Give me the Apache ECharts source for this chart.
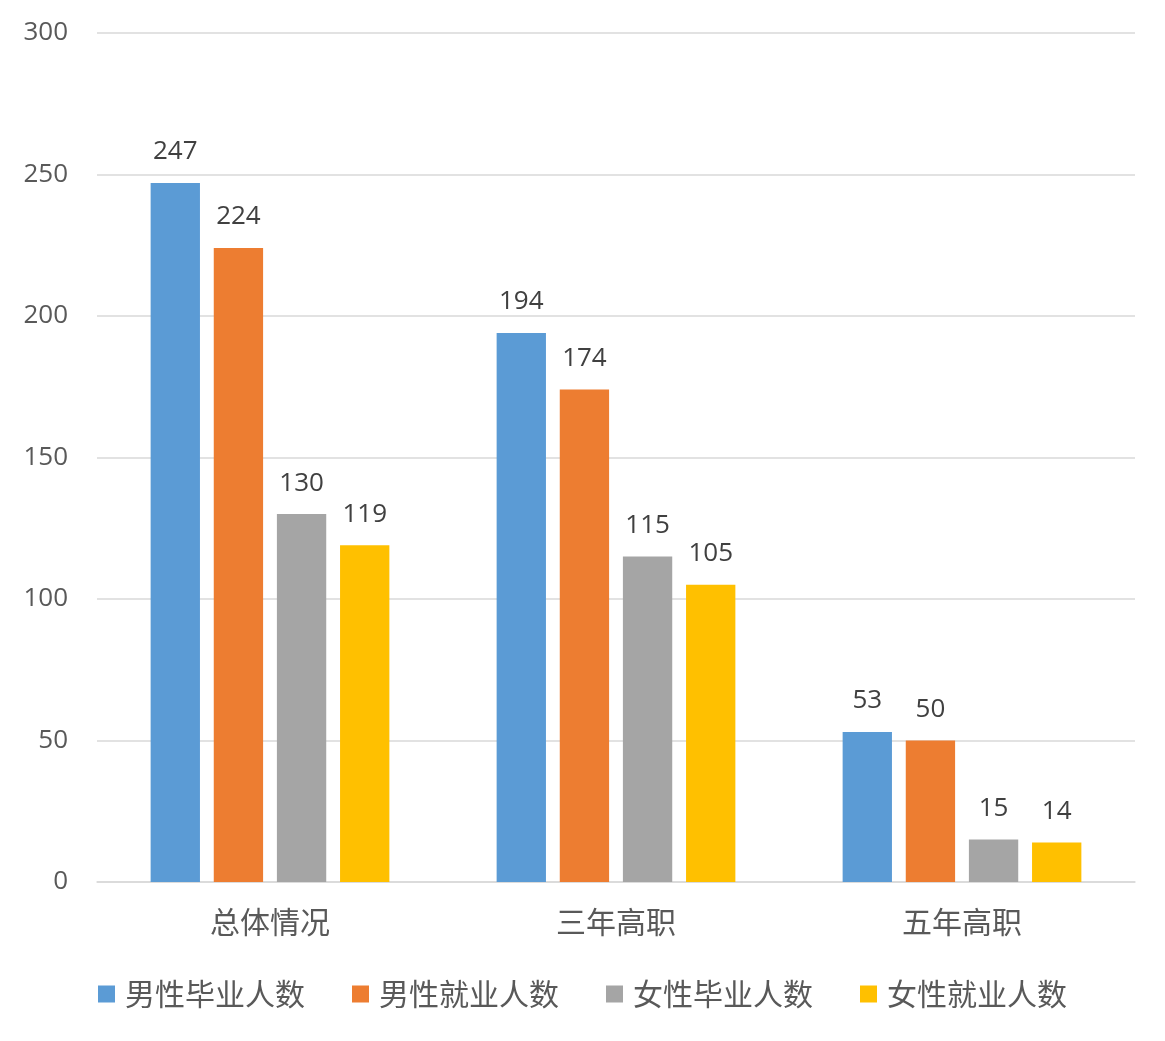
<!DOCTYPE html>
<html>
<head>
<meta charset="utf-8">
<script src="https://cdn.jsdelivr.net/npm/echarts@6/dist/echarts.min.js"></script>
<style>
html,body{margin:0;padding:0;background:#fff;}
#main{width:1165px;height:1041px;}
</style>
</head>
<body>
<div id="main"></div>
<script>
const categories = ['总体情况', '三年高职', '五年高职'];
const seriesNames = ['男性毕业人数', '男性就业人数', '女性毕业人数', '女性就业人数'];
const maleGrad = [247, 194, 53];
const maleEmp = [224, 174, 50];
const femaleGrad = [130, 115, 15];
const femaleEmp = [119, 105, 14];
const yTicks = [0, 50, 100, 150, 200, 250, 300];

const colors = ['#5B9BD5', '#ED7D31', '#A5A5A5', '#FFC000'];
const latin = '"Open Sans", "Noto Sans", sans-serif';
const cjk = '"Noto Sans CJK SC", sans-serif';

const values = [maleGrad, maleEmp, femaleGrad, femaleEmp];
const chart = echarts.init(document.getElementById('main'));
chart.setOption({
  animation: false,
  color: colors,
  grid: {left: 97, right: 30, top: 33, bottom: 159},
  legend: {
    bottom: 27,
    left: 'center',
    itemWidth: 17,
    itemHeight: 17,
    itemGap: 47,
    icon: 'rect',
    textStyle: {fontFamily: cjk, fontSize: 30, color: '#595959', padding: [0, 0, 0, 5]},
    data: seriesNames
  },
  xAxis: {
    type: 'category',
    data: categories,
    axisLine: {lineStyle: {color: '#d9d9d9', width: 1.5}},
    axisTick: {show: false},
    axisLabel: {fontFamily: cjk, fontSize: 30, color: '#595959', margin: 25}
  },
  yAxis: {
    type: 'value',
    min: yTicks[0],
    max: yTicks[yTicks.length - 1],
    interval: 50,
    axisLine: {show: false},
    axisTick: {show: false},
    splitLine: {lineStyle: {color: '#d9d9d9', width: 1.5}},
    axisLabel: {fontFamily: latin, fontSize: 26, color: '#595959', margin: 29}
  },
  series: seriesNames.map((name, i) => ({
    name: name,
    type: 'bar',
    data: values[i],
    barCategoryGap: '31%',
    barGap: '28%',
    label: {
      show: true,
      position: 'top',
      distance: 18,
      fontFamily: latin,
      fontSize: 26,
      color: '#404040'
    }
  }))
});
</script>
</body>
</html>
